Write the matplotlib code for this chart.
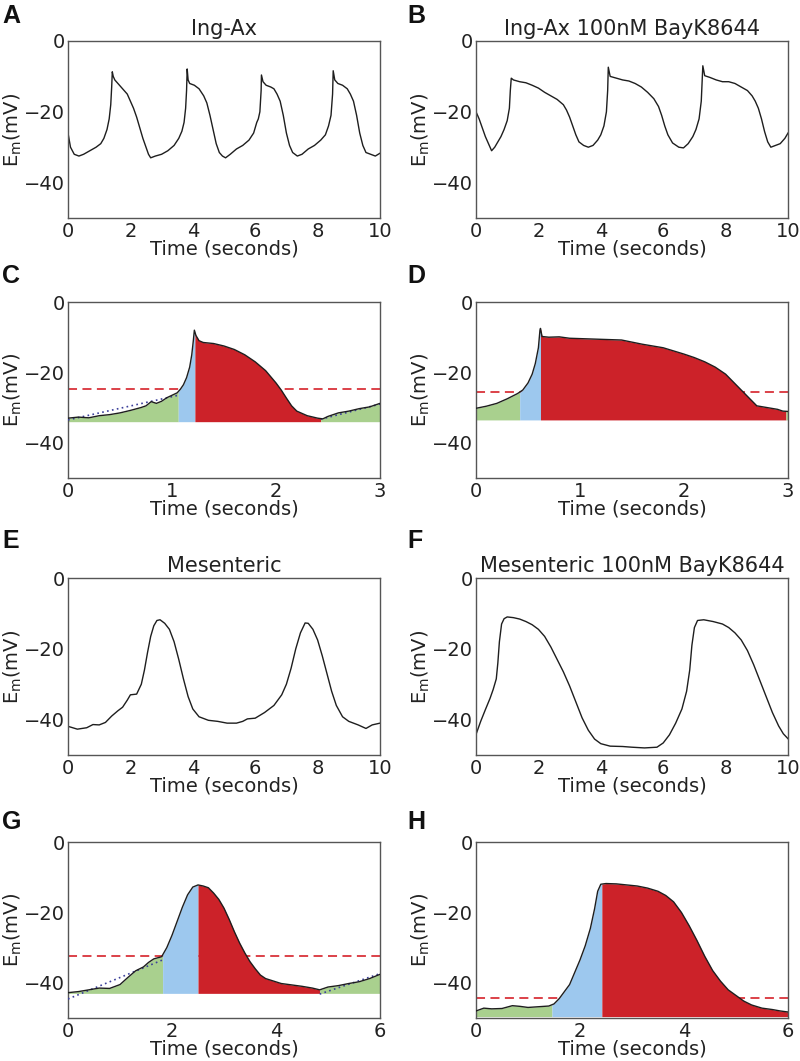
import numpy as np
import matplotlib
matplotlib.use("Agg")
import matplotlib.pyplot as plt

# ---------------- data ----------------
# Panel A: Ing-Ax
tA = [0, 0.08, 0.2, 0.35, 0.5, 0.7, 0.9, 1.05, 1.15, 1.25, 1.32, 1.37, 1.40, 1.42, 1.45, 1.5, 1.6, 1.7, 1.8, 1.9,
      2.0, 2.1, 2.2, 2.3, 2.4, 2.5, 2.58, 2.65, 2.8, 3.0, 3.2, 3.4, 3.55, 3.65, 3.72, 3.77, 3.8, 3.82, 3.85, 3.9,
      4.05, 4.2, 4.35, 4.45, 4.55, 4.65, 4.75, 4.85, 4.95, 5.05, 5.2, 5.4, 5.6, 5.8, 5.95, 6.05, 6.1, 6.15, 6.19,
      6.2, 6.25, 6.35, 6.5, 6.6, 6.7, 6.8, 6.9, 7.0, 7.1, 7.2, 7.35, 7.5, 7.7, 7.9, 8.1, 8.25, 8.35, 8.43, 8.48,
      8.5, 8.55, 8.65, 8.8, 8.95, 9.05, 9.15, 9.25, 9.35, 9.45, 9.55, 9.7, 9.85, 10]
vA = [-26, -30, -32, -32.5, -32, -31, -30, -29, -27.5, -25, -22, -18, -13, -8.7, -10, -11, -12, -13, -14, -15,
      -17, -19, -21.5, -24.5, -27.5, -30, -32, -33, -32.5, -32, -31, -29.5, -27.5, -25.5, -23, -19, -14, -7.9, -11, -12,
      -12.5, -13.5, -15.5, -17.5, -21, -25, -29, -31.5, -32.5, -33, -32, -30.5, -29.5, -28, -26, -23, -22, -20, -14,
      -9.6, -11.5, -12.5, -13, -13.5, -15, -17, -21, -26, -29.5, -31.5, -32.5, -32, -30.5, -29.5, -28, -26.5, -24, -21, -15,
      -8.4, -11, -12, -12.5, -13.5, -15, -17, -21, -26, -29.5, -31.5, -32, -32.5, -31.7]

# Panel B: Ing-Ax 100nM BayK8644
tB = [0, 0.1, 0.2, 0.3, 0.4, 0.5, 0.6, 0.7, 0.8, 0.9, 1.0, 1.07, 1.1, 1.13, 1.2, 1.4, 1.6, 1.8, 2.0, 2.2,
      2.4, 2.6, 2.8, 2.9, 3.0, 3.1, 3.2, 3.3, 3.45, 3.6, 3.75, 3.9, 4.0, 4.1, 4.18, 4.22, 4.24, 4.3, 4.5, 4.7,
      4.9, 5.1, 5.3, 5.5, 5.7, 5.85, 5.95, 6.05, 6.15, 6.3, 6.5, 6.65, 6.8, 6.95, 7.05, 7.15, 7.22, 7.25, 7.27,
      7.33, 7.5, 7.7, 7.9, 8.1, 8.3, 8.5, 8.7, 8.85, 8.95, 9.05, 9.15, 9.25, 9.35, 9.45, 9.6, 9.75, 9.9, 10]
vB = [-20, -22, -24.5, -27, -29, -31, -30, -28.5, -27, -25, -22.5, -19, -14, -10.5, -11, -11.5, -11.8, -12.5, -13.3, -14.5,
      -15.5, -16.5, -18, -19.5, -21.5, -24, -26.5, -28.5, -29.5, -30, -29.5, -28, -26.5, -24, -20, -14, -7.4, -10, -10.5, -11,
      -11.3, -12, -13, -14.5, -16.3, -18.5, -21, -24, -26.5, -28.8, -30, -30.2, -29, -27, -25, -22, -17, -11, -7,
      -9.8, -10.3, -11, -11.5, -11.5, -12, -13, -14, -15.5, -17, -19, -22, -25.6, -28.5, -30, -29.5, -29, -27.5, -26]

# Panel C: one Ing-Ax cycle
tC = [0, 0.1, 0.2, 0.3, 0.4, 0.5, 0.6, 0.7, 0.75, 0.8, 0.85, 0.9, 0.95, 1.0, 1.05, 1.08, 1.11, 1.14, 1.17,
      1.19, 1.205, 1.215, 1.23, 1.26, 1.3, 1.4, 1.5, 1.6, 1.7, 1.8, 1.9, 2.0, 2.05, 2.1, 2.15, 2.2, 2.3, 2.4,
      2.45, 2.5, 2.6, 2.7, 2.8, 2.9, 3.0]
vC = [-33, -32.7, -32.9, -32.3, -32, -31.5, -30.8, -30, -29.5, -28.3, -28.8, -28.2, -27.2, -26.5, -25.8, -24.8, -23.5, -21.5, -18.5,
      -15, -11, -8, -9.5, -11, -11.5, -11.8, -12.5, -13.5, -15, -17, -19.5, -23, -25, -27.3, -29.5, -31, -32.3, -33,
      -33.2, -32.5, -31.5, -31, -30.3, -29.8, -28.8]
baseC, threshC = -34.0, -24.7
bndC = [0.0, 1.06, 1.22, 2.43, 3.0]
fitC = [[(0.0, -33.5), (1.06, -26.5)], [(2.43, -33.3), (3.0, -29.0)]]

# Panel D: one Ing-Ax + BayK8644 cycle
tD = [0, 0.1, 0.2, 0.3, 0.4, 0.45, 0.5, 0.54, 0.57, 0.6, 0.615, 0.62, 0.635, 0.7, 0.8, 0.9, 1.0, 1.2, 1.4,
      1.6, 1.8, 2.0, 2.1, 2.2, 2.3, 2.4, 2.5, 2.55, 2.6, 2.65, 2.7, 2.8, 2.9, 2.95, 3.0]
vD = [-30.2, -29.6, -28.8, -27.5, -26, -25, -23, -20.5, -17.5, -13, -8, -7.5, -9.8, -10, -9.9, -10.3, -10.4, -10.6, -10.8,
      -12, -13, -14.8, -15.8, -17, -18.5, -20.5, -23.5, -25, -26.5, -28, -29.5, -30, -30.5, -31, -31.1]
baseD, threshD = -33.5, -25.5
bndD = [0.0, 0.42, 0.62, 2.98, 3.0]

# Panel E: Mesenteric
tE = [0, 0.3, 0.6, 0.8, 1.0, 1.2, 1.4, 1.6, 1.75, 1.9, 2.0, 2.2, 2.35, 2.45, 2.55, 2.65, 2.75, 2.85, 2.95,
      3.1, 3.25, 3.4, 3.55, 3.7, 3.85, 4.0, 4.2, 4.5, 4.8, 5.1, 5.4, 5.6, 5.75, 6.0, 6.3, 6.6, 6.85, 7.0, 7.15,
      7.3, 7.45, 7.6, 7.7, 7.85, 8.0, 8.15, 8.3, 8.45, 8.6, 8.8, 9.0, 9.3, 9.55, 9.75, 10]
vE = [-41.9, -42.7, -42.3, -41.4, -41.5, -40.8, -39, -37.5, -36.5, -34.5, -33, -32.8, -30, -26, -21, -16.5, -13.5, -12, -11.8,
      -12.8, -14.5, -18, -23, -28.5, -33.5, -37, -39.2, -40.2, -40.5, -41, -41, -40.5, -39.8, -39.6, -38, -36, -33, -30, -25.5,
      -20, -15.5, -12.7, -12.8, -14.5, -17.5, -22, -27, -32, -36, -39.2, -40.5, -41.5, -42.5, -41.5, -41]

# Panel F: Mesenteric 100nM BayK8644
tF = [0, 0.15, 0.3, 0.45, 0.55, 0.65, 0.7, 0.75, 0.82, 0.9, 1.0, 1.2, 1.4, 1.6, 1.8, 2.0, 2.2, 2.4, 2.6,
      2.8, 3.0, 3.2, 3.4, 3.6, 3.8, 4.0, 4.3, 4.7, 5.0, 5.4, 5.8, 6.0, 6.2, 6.4, 6.6, 6.75, 6.85, 6.92, 7.0,
      7.1, 7.3, 7.6, 7.9, 8.1, 8.3, 8.5, 8.7, 8.9, 9.1, 9.3, 9.5, 9.7, 9.85, 10]
vF = [-44.2, -40.5, -37.2, -34, -31.5, -28.5, -24, -18, -13, -11.5, -11, -11.2, -11.6, -12.3, -13.2, -14.5, -16.5, -19.5, -23,
      -26.5, -30.5, -35, -39.5, -43, -45.5, -46.8, -47.5, -47.6, -47.8, -48, -47.8, -46.6, -44.3, -41, -37, -32, -26, -19, -14,
      -12, -11.8, -12.3, -13, -14, -15.5, -17.5, -20.5, -24.5, -29, -33.5, -38, -41.8, -44, -45.4]

# Panel G: one mesenteric cycle
tG = [0, 0.2, 0.4, 0.6, 0.8, 1.0, 1.15, 1.3, 1.45, 1.55, 1.65, 1.8, 1.9, 2.0, 2.1, 2.2, 2.3, 2.4, 2.5,
      2.6, 2.7, 2.8, 2.9, 3.0, 3.1, 3.2, 3.3, 3.4, 3.5, 3.6, 3.7, 3.8, 3.95, 4.1, 4.3, 4.5, 4.7, 4.84, 5.0,
      5.2, 5.4, 5.6, 5.8, 6.0]
vG = [-42.8, -42.5, -42, -41.5, -41.6, -40.5, -38.5, -36.6, -35.5, -34.2, -33.2, -32.6, -30, -26.5, -22.5, -18.5, -15, -12.8, -12.2,
      -12.5, -13, -14.5, -16.3, -18.8, -22, -25.5, -28.7, -31.5, -34, -36, -37.8, -38.8, -39.5, -40.2, -40.6, -41, -41.5, -42, -41.2,
      -40.8, -40.2, -39.7, -38.8, -37.6]
baseG, threshG = -43.0, -32.5
bndG = [0.0, 1.82, 2.5, 4.84, 6.0]
fitG = [[(0.0, -44.6), (1.82, -33.5)], [(4.84, -43.2), (6.0, -37.4)]]

# Panel H: one mesenteric + BayK8644 cycle
tH = [0, 0.15, 0.3, 0.5, 0.7, 0.85, 1.0, 1.2, 1.4, 1.5, 1.6, 1.7, 1.8, 1.9, 2.0, 2.1, 2.2, 2.28, 2.34,
      2.4, 2.5, 2.7, 2.9, 3.1, 3.3, 3.5, 3.65, 3.8, 3.95, 4.1, 4.25, 4.4, 4.55, 4.7, 4.85, 5.0, 5.15, 5.3,
      5.5, 5.7, 5.85, 6.0]
vH = [-48, -47.2, -47.4, -47.3, -46.5, -46.7, -47, -46.8, -46.6, -46, -44.5, -42.5, -40.5, -37, -33.5, -29.5, -24.5, -19, -14,
      -12, -11.8, -11.9, -12.2, -12.5, -13.1, -14, -15.2, -17, -20, -23.8, -28, -32.5, -36.5, -39.5, -42, -43.6, -45.2, -46.3,
      -47.2, -47.6, -48, -48.3]
baseH, threshH = -49.6, -44.2
bndH = [0.0, 1.46, 2.42, 6.0, 6.0]

titles = {"A": "Ing-Ax", "B": "Ing-Ax 100nM BayK8644",
          "E": "Mesenteric", "F": "Mesenteric 100nM BayK8644"}

# ---------------- style ----------------
GREEN = "#a9d08e"
BLUE = "#9dc8ee"
RED = "#cc2229"
DASH = "#d9333a"
TRACE = "#1e1e1e"
FIT = "#3b3f9a"
TXT = "#222222"
FS = 14

fig = plt.figure(figsize=(8.0, 10.61), dpi=100)

W, H = 800.0, 1061.0
def add_ax(left, top, right, bottom):
    return fig.add_axes([left / W, 1 - bottom / H, (right - left) / W, (bottom - top) / H])

rows = [(41, 218), (302, 478), (578, 755), (842, 1018)]
cols = [(68, 380), (476, 788)]

def style(ax, xmax, xticks):
    ax.set_xlim(0, xmax)
    ax.set_ylim(-50, 0)
    ax.set_yticks([0, -20, -40])
    ax.set_xticks(xticks)
    ax.tick_params(length=0, labelsize=FS, pad=3, colors=TXT)
    ax.tick_params(axis="y", pad=2)
    for s in ax.spines.values():
        s.set_color("#555555")
        s.set_linewidth(1.0)
    ax.set_xlabel("Time (seconds)", fontsize=FS, labelpad=-1, color=TXT)
    ax.set_ylabel(r"E$_\mathrm{m}$(mV)", fontsize=FS, labelpad=0, color=TXT)

def seg(t, v, a, b):
    t = np.asarray(t, float); v = np.asarray(v, float)
    inner = (t > a) & (t < b)
    ts = np.concatenate([[a], t[inner], [b]])
    vs = np.concatenate([[np.interp(a, t, v)], v[inner], [np.interp(b, t, v)]])
    return ts, vs

def cycle(ax, t, v, base, thr, bnd, fits=None):
    ax.axhline(thr, color=DASH, lw=1.3, ls=(0, (5, 3)), zorder=1)
    cols_ = [GREEN, BLUE, RED, GREEN]
    for i in range(4):
        a, b = bnd[i], bnd[i + 1]
        if b - a <= 0:
            continue
        ts, vs = seg(t, v, a, b)
        ax.fill_between(ts, base, vs, color=cols_[i], lw=0, zorder=2)
    ax.plot(t, v, color=TRACE, lw=1.0, zorder=4)
    if fits:
        for (p0, p1) in fits:
            ax.plot([p0[0], p1[0]], [p0[1], p1[1]], color=FIT, lw=1.2, ls=(0, (1, 2)), zorder=3)

def trace(ax, t, v):
    ax.plot(t, v, color=TRACE, lw=1.0)

# A
ax = add_ax(cols[0][0], rows[0][0], cols[0][1], rows[0][1])
trace(ax, tA, vA)
style(ax, 10, [0, 2, 4, 6, 8, 10]); ax.set_title(titles["A"], fontsize=15, pad=4, color=TXT)
# B
ax = add_ax(cols[1][0], rows[0][0], cols[1][1], rows[0][1])
trace(ax, tB, vB)
style(ax, 10, [0, 2, 4, 6, 8, 10]); ax.set_title(titles["B"], fontsize=15, pad=4, color=TXT)
# C
ax = add_ax(cols[0][0], rows[1][0], cols[0][1], rows[1][1])
cycle(ax, tC, vC, baseC, threshC, bndC, fitC)
style(ax, 3, [0, 1, 2, 3])
# D
ax = add_ax(cols[1][0], rows[1][0], cols[1][1], rows[1][1])
cycle(ax, tD, vD, baseD, threshD, bndD)
style(ax, 3, [0, 1, 2, 3])
# E
ax = add_ax(cols[0][0], rows[2][0], cols[0][1], rows[2][1])
trace(ax, tE, vE)
style(ax, 10, [0, 2, 4, 6, 8, 10]); ax.set_title(titles["E"], fontsize=15, pad=4, color=TXT)
# F
ax = add_ax(cols[1][0], rows[2][0], cols[1][1], rows[2][1])
trace(ax, tF, vF)
style(ax, 10, [0, 2, 4, 6, 8, 10]); ax.set_title(titles["F"], fontsize=15, pad=4, color=TXT)
# G
ax = add_ax(cols[0][0], rows[3][0], cols[0][1], rows[3][1])
cycle(ax, tG, vG, baseG, threshG, bndG, fitG)
style(ax, 6, [0, 2, 4, 6])
# H
ax = add_ax(cols[1][0], rows[3][0], cols[1][1], rows[3][1])
cycle(ax, tH, vH, baseH, threshH, bndH)
style(ax, 6, [0, 2, 4, 6])

letters = [("A", 2, 16), ("B", 407, 16), ("C", 2, 276), ("D", 407, 276),
           ("E", 2, 541), ("F", 407, 541), ("G", 2, 822), ("H", 407, 822)]
for L, x, y in letters:
    fig.text(x / W, 1 - y / H, L, fontsize=18, fontweight="bold", family="Liberation Sans",
             ha="left", va="center", color="#111111")

fig.savefig("out.png", dpi=100)
